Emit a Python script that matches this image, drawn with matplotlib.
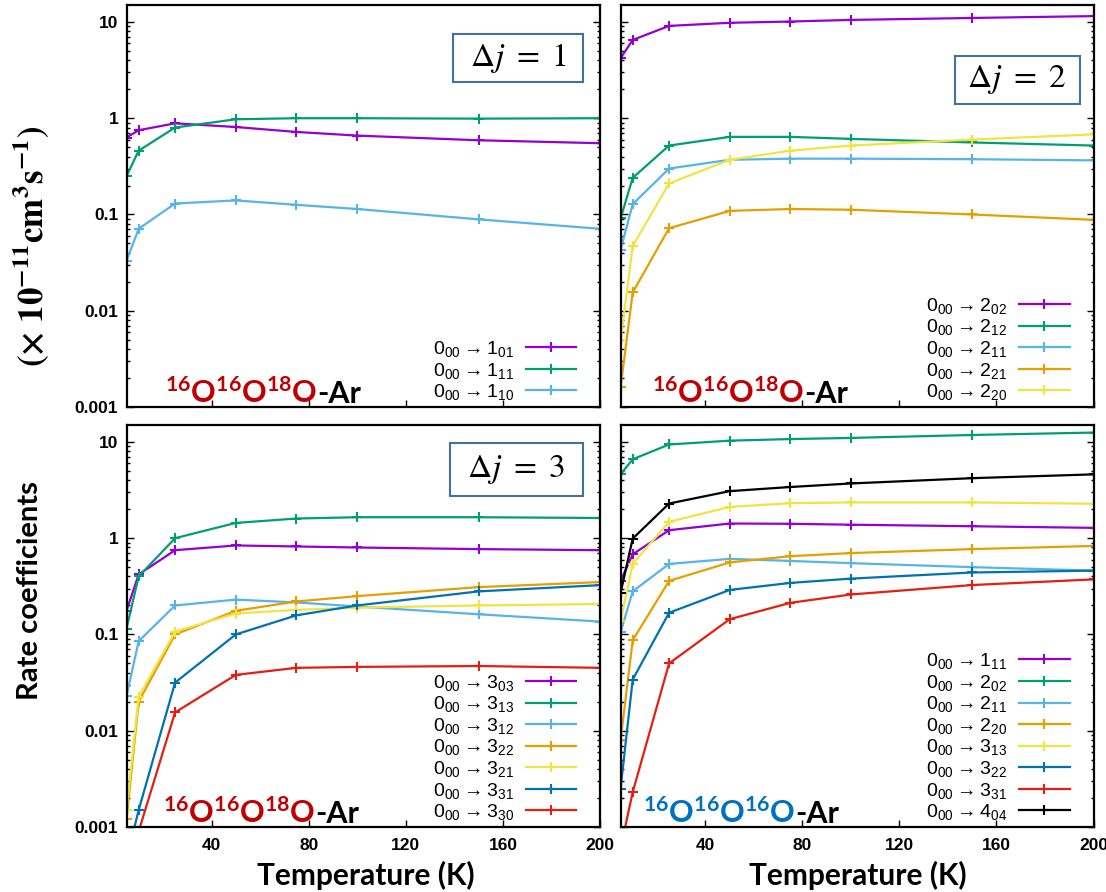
import matplotlib
matplotlib.use('Agg')
import matplotlib.pyplot as plt
from matplotlib.patches import Rectangle
from matplotlib.ticker import LogLocator, NullFormatter

plt.rcParams['mathtext.default'] = 'regular'

# temperatures (K)
temps = [5, 10, 25, 50, 75, 100, 150, 200]

# 16O16O18O-Ar, delta j = 1
k_101 = [0.63, 0.75, 0.885, 0.81, 0.72, 0.66, 0.59, 0.55]
k_111 = [0.25, 0.46, 0.80, 0.975, 1.0, 1.0, 0.99, 1.0]
k_110 = [0.033, 0.071, 0.13, 0.14, 0.126, 0.114, 0.089, 0.071]

# 16O16O18O-Ar, delta j = 2
k_202 = [4.2, 6.5, 9.1, 9.8, 10.1, 10.5, 11.0, 11.5]
k_212 = [0.091, 0.24, 0.52, 0.64, 0.64, 0.61, 0.56, 0.52]
k_211 = [0.043, 0.128, 0.30, 0.37, 0.38, 0.38, 0.375, 0.365]
k_221 = [0.0016, 0.0155, 0.072, 0.109, 0.114, 0.112, 0.100, 0.088]
k_220 = [0.0048, 0.047, 0.21, 0.37, 0.46, 0.52, 0.60, 0.68]

# 16O16O18O-Ar, delta j = 3
k_303 = [0.176, 0.42, 0.75, 0.84, 0.82, 0.80, 0.77, 0.75]
k_313 = [0.115, 0.40, 1.0, 1.44, 1.6, 1.65, 1.65, 1.62]
k_312 = [0.023, 0.085, 0.20, 0.23, 0.215, 0.195, 0.162, 0.136]
k_322 = [0.0012, 0.020, 0.10, 0.176, 0.22, 0.25, 0.31, 0.35]
k_321 = [0.0015, 0.0225, 0.107, 0.165, 0.18, 0.19, 0.20, 0.207]
k_331 = [0.00046, 0.0015, 0.0316, 0.10, 0.158, 0.20, 0.28, 0.325]
k_330 = [0.0001, 0.0009, 0.0155, 0.038, 0.045, 0.046, 0.047, 0.045]

# 16O16O16O-Ar
m_111 = [0.36, 0.68, 1.21, 1.42, 1.41, 1.38, 1.33, 1.28]
m_202 = [4.6, 6.6, 9.4, 10.3, 10.7, 11.0, 11.8, 12.5]
m_211 = [0.105, 0.28, 0.54, 0.61, 0.58, 0.55, 0.50, 0.46]
m_220 = [0.008, 0.087, 0.36, 0.56, 0.65, 0.70, 0.77, 0.83]
m_313 = [0.137, 0.54, 1.48, 2.11, 2.31, 2.35, 2.35, 2.28]
m_322 = [0.0025, 0.034, 0.168, 0.29, 0.343, 0.38, 0.44, 0.46]
m_331 = [0.0006, 0.0023, 0.05, 0.144, 0.213, 0.26, 0.326, 0.373]
m_404 = [0.27, 0.99, 2.29, 3.08, 3.4, 3.7, 4.2, 4.6]

purple = '#9400d3'
green = '#009e73'
skyblue = '#56b4e9'
orange = '#e69f00'
yellow = '#f0e442'
blue = '#0072b2'
red = '#e51e10'
black = '#000000'

panels = [
    [(k_101, purple, '1_{01}'), (k_111, green, '1_{11}'), (k_110, skyblue, '1_{10}')],
    [(k_202, purple, '2_{02}'), (k_212, green, '2_{12}'), (k_211, skyblue, '2_{11}'),
     (k_221, orange, '2_{21}'), (k_220, yellow, '2_{20}')],
    [(k_303, purple, '3_{03}'), (k_313, green, '3_{13}'), (k_312, skyblue, '3_{12}'),
     (k_322, orange, '3_{22}'), (k_321, yellow, '3_{21}'), (k_331, blue, '3_{31}'),
     (k_330, red, '3_{30}')],
    [(m_111, purple, '1_{11}'), (m_202, green, '2_{02}'), (m_211, skyblue, '2_{11}'),
     (m_220, orange, '2_{20}'), (m_313, yellow, '3_{13}'), (m_322, blue, '3_{22}'),
     (m_331, red, '3_{31}'), (m_404, black, '4_{04}')],
]

fig = plt.figure(figsize=(11.06, 8.92), dpi=100)
boxes = [[0.1144, 0.5437, 0.4281, 0.4507], [0.5611, 0.5437, 0.4276, 0.4507],
         [0.1144, 0.0729, 0.4281, 0.4507], [0.5611, 0.0729, 0.4276, 0.4507]]
axes = [fig.add_axes(b) for b in boxes]

tick_font = {'family': 'Liberation Sans', 'weight': 'bold', 'size': 12.5}

for i, ax in enumerate(axes):
    for vals, col, lab in panels[i]:
        ax.plot(temps, vals, color=col, lw=1.6, marker='+', ms=7, mew=1.5,
                label=r'$0_{00} \rightarrow ' + lab + '$')
    ax.set_yscale('log')
    ax.set_xlim(5, 200)
    ax.set_ylim(0.001, 15)
    ax.set_xticks([40, 80, 120, 160, 200])
    ax.set_yticks([0.001, 0.01, 0.1, 1, 10])
    ax.yaxis.set_minor_locator(LogLocator(base=10, subs=range(2, 10)))
    ax.yaxis.set_minor_formatter(NullFormatter())
    ax.tick_params(which='both', direction='in', right=True, width=1.0)
    ax.tick_params(which='major', length=5)
    ax.tick_params(which='minor', length=2.5)
    ax.tick_params(axis='x', pad=8)
    ax.tick_params(axis='y', pad=6)
    for sp in ax.spines.values():
        sp.set_linewidth(1.6)
    if i % 2 == 0:
        ax.set_yticklabels(['0.001', '0.01', '0.1', '1', '10'], fontdict=tick_font)
    else:
        ax.set_yticklabels([])
    if i >= 2:
        ax.set_xticklabels(['40', '80', '120', '160', '200'], fontdict=tick_font)
    else:
        ax.set_xticklabels([])
    ax.legend(loc='lower right', bbox_to_anchor=(0.96, 0.0), frameon=False,
              markerfirst=False, handlelength=2.6, handletextpad=0.6,
              labelspacing=0.08, borderaxespad=0.1, borderpad=0.15,
              prop={'family': 'Liberation Sans', 'size': 14})

# isotopologue labels
iso = [(axes[0], 0.081, '$^{16}$O$^{16}$O$^{18}$O', '#c00000'),
       (axes[1], 0.066, '$^{16}$O$^{16}$O$^{18}$O', '#c00000'),
       (axes[2], 0.077, '$^{16}$O$^{16}$O$^{18}$O', '#c00000'),
       (axes[3], 0.047, '$^{16}$O$^{16}$O$^{16}$O', '#0070c0')]
for ax, x0, txt, col in iso:
    t = ax.text(x0, 0.01, txt, transform=ax.transAxes, color=col, family='Lato',
                fontweight='bold', fontsize=22, va='baseline', ha='left')
    ax.annotate('-Ar', xy=(1, 0), xycoords=t, va='bottom', ha='left',
                family='Lato', fontweight='bold', fontsize=22, color='black')

# delta j boxes: (axes, box x0, y0, w, h in axes fraction, label)
dj = [(axes[0], 0.690, 0.808, 0.275, 0.119, '1'),
      (axes[1], 0.707, 0.754, 0.264, 0.119, '2'),
      (axes[2], 0.683, 0.823, 0.281, 0.132, '3')]
for ax, x0, y0, w, h, n in dj:
    ax.add_patch(Rectangle((x0, y0), w, h, transform=ax.transAxes, fc='white',
                           ec='#41719c', lw=1.5, zorder=5))
    ax.text(x0 + w / 2, y0 + h / 2, r'$\Delta\mathit{j}\ =\ ' + n + '$',
            transform=ax.transAxes, family='STIXGeneral', math_fontfamily='stix',
            fontsize=24, ha='center', va='center', zorder=6)

# axis labels
fig.text(0.331, 0.0078, 'Temperature (K)', family='Lato', fontweight='bold',
         fontsize=21.5, ha='center', va='baseline')
fig.text(0.776, 0.0078, 'Temperature (K)', family='Lato', fontweight='bold',
         fontsize=21.5, ha='center', va='baseline')
fig.text(0.027, 1 - 591 / 892, 'Rate coefficients', family='Lato', fontweight='bold',
         fontsize=21, rotation=90, ha='center', va='center')
fig.text(0.028, 1 - 246 / 892, r'(× 10$^{-11}$cm$^{3}$s$^{-1}$)', family='STIXGeneral',
         fontweight='bold', fontsize=25, rotation=90, ha='center', va='center')

fig.savefig('out.png', dpi=100)
